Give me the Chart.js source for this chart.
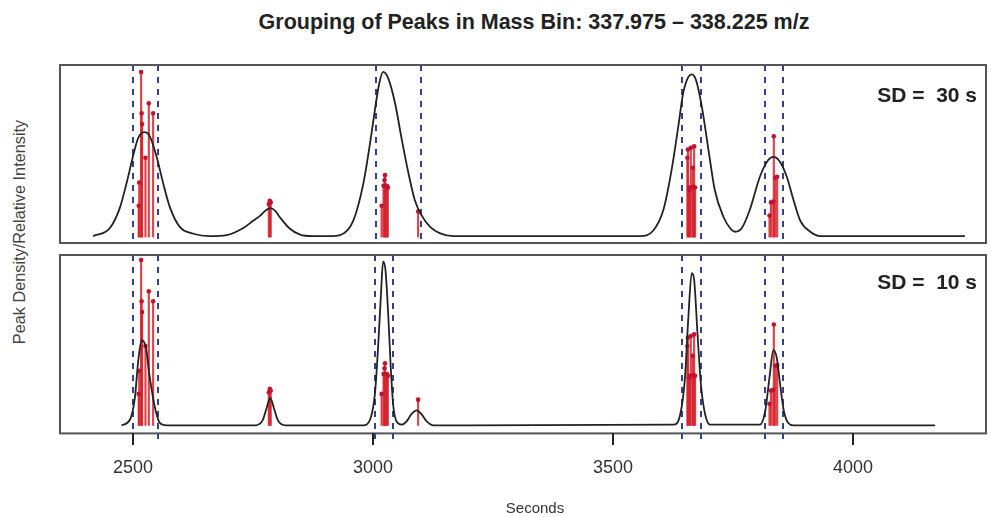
<!DOCTYPE html>
<html>
<head>
<meta charset="utf-8">
<script src="https://cdn.jsdelivr.net/npm/chart.js@4.4.1/dist/chart.umd.min.js"></script>
<style>
  body { margin: 0; background: #fff; font-family: "Liberation Sans", Arial, sans-serif; }
  #wrap { position: relative; width: 991px; height: 517px; overflow: hidden; }
  .txt { position: absolute; color: #333; white-space: pre; }
  #title { left: 534px; top: 22px; transform: translate(-50%, -50%); font-size: 21.5px; font-weight: bold; color: #222; }
  #ylab { left: 19px; top: 232px; transform: translate(-50%, -50%) rotate(-90deg); font-size: 16.3px; color: #444; }
  #xlab { left: 535px; top: 507px; transform: translate(-50%, -50%); font-size: 15px; color: #333; }
  .sd { right: 14px; font-size: 21px; font-weight: bold; color: #222; transform: translateY(-50%); }
  .pane { position: absolute; left: 0; line-height: 0; }
  canvas { display: block; }
</style>
</head>
<body>
<div id="wrap">
  <div id="title" class="txt">Grouping of Peaks in Mass Bin: 337.975 – 338.225 m/z</div>
  <div id="ylab" class="txt">Peak Density/Relative Intensity</div>
  <div class="pane" style="top:0"><canvas id="topChart" width="991" height="250"></canvas></div>
  <div class="pane" style="top:250px"><canvas id="bottomChart" width="991" height="267"></canvas></div>
  <div class="txt sd" style="top:95px">SD =  30 s</div>
  <div class="txt sd" style="top:282px">SD =  10 s</div>
  <div id="xlab" class="txt">Seconds</div>
</div>
<script>
var d = document;
var getEl = (id) => d.getElementById(id);
var toPts = (xs, ys) => xs.map((x, i) => ({x: x, y: ys[i]}));

// x range of both panels (seconds)
var xMin = 2348, xMax = 4277;
var xTicks = [2500, 3000, 3500, 4000];

// single peaks: retention time (s) and relative intensity
var stemTimes   = [2512, 2513, 2517, 2518, 2519, 2526, 2533, 2542,
                   2783, 2785, 2787,
                   3018, 3022, 3024, 3025, 3027, 3029, 3031, 3094,
                   3655, 3656, 3659, 3660, 3662, 3666, 3667, 3669, 3671,
                   3826, 3829, 3834, 3835, 3838, 3842];
var stemHeights = [0.19, 0.33, 1.0, 0.75, 0.685, 0.48, 0.81, 0.75,
                   0.2, 0.22, 0.21,
                   0.19, 0.31, 0.345, 0.375, 0.31, 0.31, 0.30, 0.155,
                   0.48, 0.53, 0.285, 0.30, 0.54, 0.42, 0.305, 0.55, 0.30,
                   0.13, 0.21, 0.215, 0.61, 0.36, 0.365];

// peak density, SD = 30 s
var dens30Times = [2417, 2452, 2473, 2487, 2501, 2511, 2524, 2535, 2549, 2563, 2577, 2598, 2626, 2660,
                   2695, 2730, 2751, 2765, 2776, 2786, 2796, 2806, 2827, 2848, 2875, 2910,
                   2931, 2959, 2980, 2994, 3004, 3013, 3021, 3032, 3046, 3060, 3074, 3087, 3101, 3119, 3140, 3167, 3200,
                   3556, 3584, 3605, 3622, 3636, 3646, 3657, 3664, 3673, 3685, 3699, 3712, 3730, 3744, 3754,
                   3768, 3785, 3806, 3823, 3834, 3848, 3862, 3876, 3890, 3911, 3931, 3960, 4233];
var dens30Vals  = [0.006, 0.055, 0.18, 0.33, 0.50, 0.60, 0.635, 0.61, 0.49, 0.325, 0.18, 0.06, 0.02, 0.006,
                   0.012, 0.055, 0.10, 0.13, 0.16, 0.175, 0.16, 0.12, 0.05, 0.015, 0.006, 0.006,
                   0.012, 0.10, 0.325, 0.57, 0.77, 0.93, 1.0, 0.96, 0.81, 0.59, 0.385, 0.225, 0.133, 0.062, 0.022, 0.006, 0.006,
                   0.006, 0.04, 0.165, 0.405, 0.67, 0.87, 0.97, 0.985, 0.95, 0.79, 0.525, 0.285, 0.123, 0.053, 0.032,
                   0.053, 0.165, 0.365, 0.465, 0.485, 0.455, 0.365, 0.225, 0.10, 0.032, 0.006, 0.006, 0.006];

// peak density, SD = 10 s
var dens10Times = [2476, 2494, 2504, 2511, 2518, 2527, 2535, 2546, 2556, 2570,
                   2755, 2770, 2778, 2786, 2794, 2802, 2817,
                   2980, 2994, 3004, 3011, 3017, 3021, 3026, 3032, 3037, 3042, 3049, 3060, 3070, 3080, 3091, 3101, 3112, 3126,
                   3626, 3640, 3650, 3657, 3664, 3669, 3676, 3683, 3692, 3702,
                   3806, 3817, 3826, 3834, 3841, 3848, 3856, 3865, 3876, 4171];
var dens10Vals  = [0.0, 0.035, 0.167, 0.39, 0.515, 0.47, 0.29, 0.105, 0.015, 0.0,
                   0.0, 0.03, 0.1, 0.165, 0.1, 0.03, 0.0,
                   0.0, 0.035, 0.19, 0.49, 0.815, 0.99, 0.94, 0.655, 0.35, 0.126, 0.024, 0.004, 0.024, 0.067, 0.09, 0.067, 0.024, 0.0,
                   0.004, 0.065, 0.29, 0.655, 0.92, 0.88, 0.555, 0.25, 0.065, 0.004,
                   0.004, 0.085, 0.29, 0.455, 0.41, 0.25, 0.085, 0.014, 0.0, 0.0];

// group boundaries (dashed lines)
var bounds30 = [2501, 2553, 3006, 3100, 3644, 3683, 3817, 3854];
var bounds10 = [2501, 2553, 3004, 3042, 3644, 3683, 3817, 3854];

var fontFam = '"Liberation Sans", Arial, sans-serif';

// dashed group lines behind the data, box frame + axis tick marks on top
var panelPlugin = (bounds, withAxis) => ({
    id: 'panel',
    beforeDatasetsDraw(chart) {
        var ca = chart.chartArea, xs = chart.scales.x, ctx = chart.ctx;
        ctx.save();
        ctx.strokeStyle = '#34418f';
        ctx.lineWidth = 2;
        ctx.setLineDash([6, 6]);
        bounds.forEach(v => {
            var px = Math.round(xs.getPixelForValue(v));
            ctx.beginPath();
            ctx.moveTo(px, ca.top);
            ctx.lineTo(px, ca.bottom);
            ctx.stroke();
        });
        ctx.restore();
    },
    afterDraw(chart) {
        var ca = chart.chartArea, xs = chart.scales.x, ctx = chart.ctx;
        ctx.save();
        ctx.setLineDash([]);
        ctx.strokeStyle = '#555';
        ctx.lineWidth = 2;
        ctx.strokeRect(ca.left, ca.top, ca.right - ca.left, ca.bottom - ca.top);
        if (withAxis) {
            var y0 = Math.round(ca.bottom);
            // rug marks of the group edges, then the axis ticks, under the frame
            ctx.fillStyle = '#34418f';
            bounds.forEach(v => {
                ctx.fillRect(Math.round(xs.getPixelForValue(v)) - 1, y0, 2, 6);
            });
            ctx.fillStyle = '#222';
            xTicks.forEach(v => {
                ctx.fillRect(Math.round(xs.getPixelForValue(v)) - 1, y0, 2, 12);
            });
        }
        ctx.restore();
    }
});

function makePanel(id, times, vals, bounds, yMin, yMax, pad, showAxis)
{
    var stems = toPts(stemTimes, stemHeights);
    var xScale = {
        type: 'linear', min: xMin, max: xMax, offset: false, display: showAxis,
        afterBuildTicks: (s) => { s.ticks = xTicks.map(v => ({value: v})); },
        grid: { display: false, offset: false, drawTicks: true, tickLength: 10 },
        border: { display: false },
        ticks: { padding: 14, color: '#333', maxRotation: 0, font: { size: 18, family: fontFam },
                 callback: (v) => String(v) }
    };
    return new Chart(getEl(id), {
        type: 'line',
        data: {
            datasets: [
                { type: 'line', data: toPts(times, vals), borderColor: '#222', borderWidth: 1.8,
                  pointRadius: 0, cubicInterpolationMode: 'monotone', order: 0 },
                { type: 'scatter', data: stems, pointRadius: 2.3, pointBackgroundColor: '#c4122f',
                  pointBorderWidth: 0, order: 1 },
                { type: 'bar', data: stems, backgroundColor: 'rgba(214,34,44,0.85)', barThickness: 1.5,
                  grouped: false, borderWidth: 0, order: 2 }
            ]
        },
        options: {
            responsive: false,
            animation: false,
            layout: { padding: pad },
            plugins: { legend: { display: false }, tooltip: { enabled: false } },
            scales: {
                x: xScale,
                y: { type: 'linear', min: yMin, max: yMax, display: false }
            }
        },
        plugins: [panelPlugin(bounds, showAxis)]
    });
}

makePanel('topChart', dens30Times, dens30Vals, bounds30, -0.036, 1.042,
          { left: 60, right: 5, top: 65, bottom: 7 }, false);
makePanel('bottomChart', dens10Times, dens10Vals, bounds10, -0.049, 1.03,
          { left: 60, right: 5, top: 5, bottom: 24 }, true);
</script>
</body>
</html>
